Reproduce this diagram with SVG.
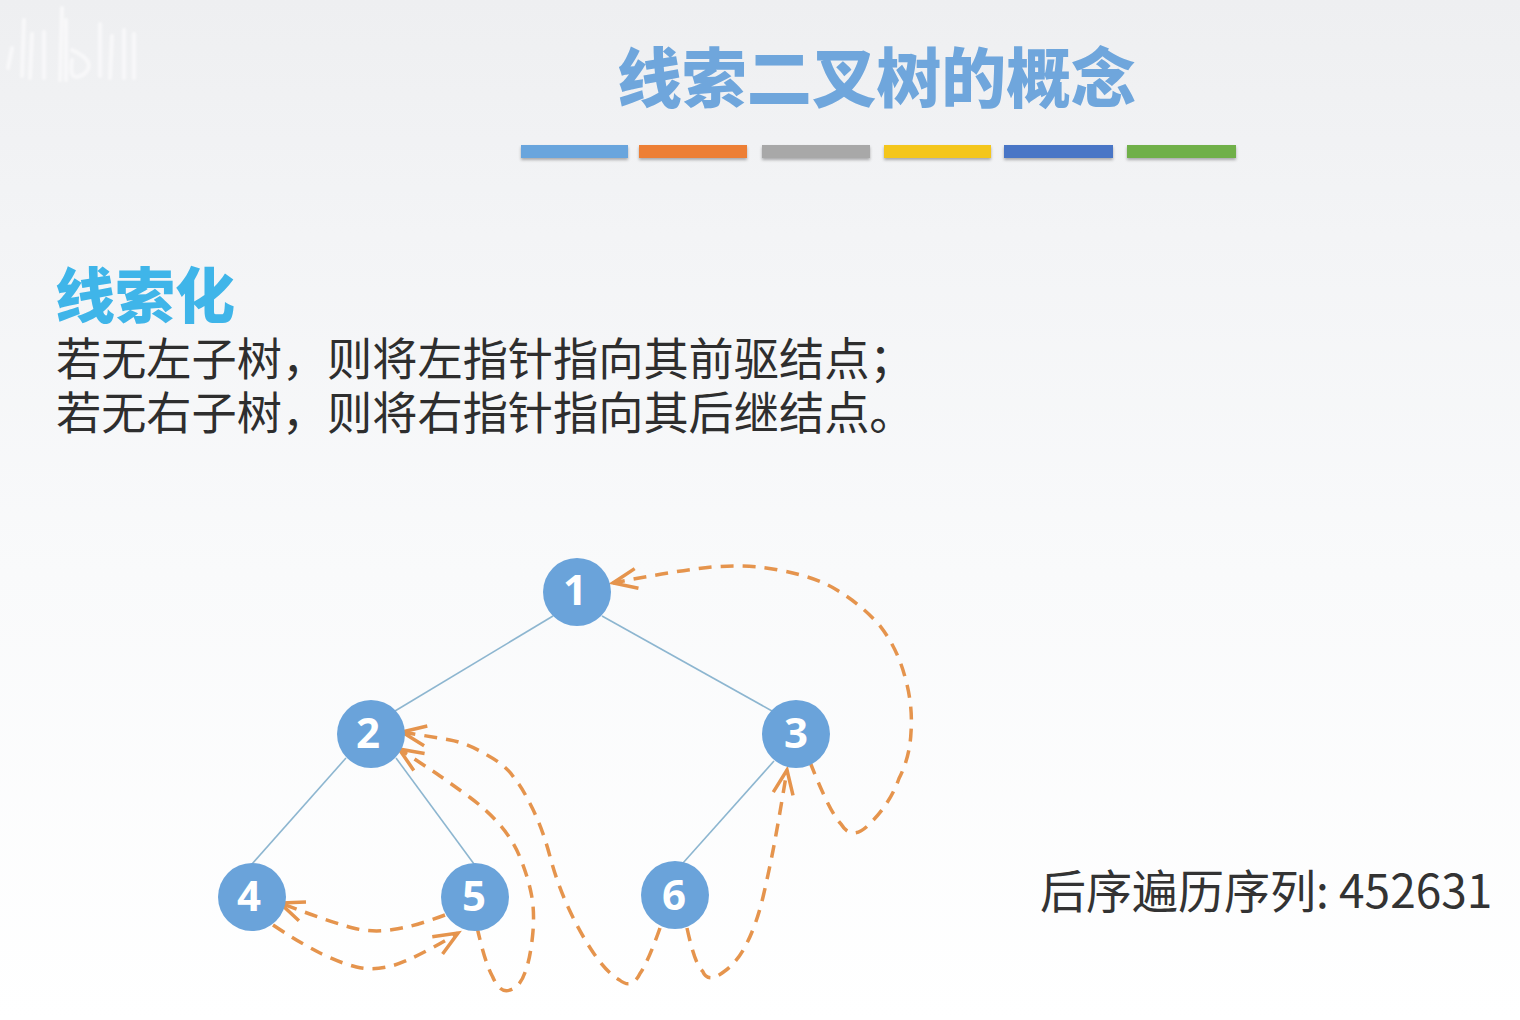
<svg xmlns="http://www.w3.org/2000/svg" width="1520" height="1020" viewBox="0 0 1520 1020">
<style>
.cjk{font-family:"Noto Sans CJK SC","Noto Sans",sans-serif}
.title{font-size:65px;font-weight:900;fill:#6fa6dc}
.head{font-size:60px;font-weight:900;fill:#3fb5e9}
.body{font-size:45.2px;font-weight:400;fill:#2e2e2e}
.seq{font-size:46px;font-weight:400;fill:#333}
.num{font-family:"Noto Sans","Open Sans",sans-serif;font-size:42px;font-weight:700;fill:#fff;text-anchor:middle}
.disc{fill:#6aa3da}
.edge{stroke:#8db6d0;stroke-width:1.6;fill:none}
.thread{stroke:#e5944d;stroke-width:3.5;fill:none;stroke-dasharray:13 9;marker-end:url(#open)}
.bar{filter:url(#sh)}
.wm{stroke:#f8f8f9;stroke-width:4;fill:none;stroke-linecap:round;filter:url(#soft)}
</style>
<defs>
<linearGradient id="bg" x1="0" y1="0" x2="0" y2="1">
<stop offset="0" stop-color="#eeeff1"/>
<stop offset="0.23" stop-color="#f3f4f6"/>
<stop offset="0.56" stop-color="#f9fafb"/>
<stop offset="1" stop-color="#ffffff"/>
</linearGradient>
<filter id="sh" x="-5%" y="-40%" width="110%" height="200%"><feDropShadow dx="0" dy="2" stdDeviation="1.5" flood-color="#000" flood-opacity="0.3"/></filter>
<filter id="soft" x="-10%" y="-10%" width="120%" height="120%"><feGaussianBlur stdDeviation="1.2"/></filter>
<marker id="open" markerUnits="userSpaceOnUse" markerWidth="30" markerHeight="24" refX="25" refY="11" orient="auto" overflow="visible">
<path d="M1 1 L25 11 L1 21" fill="none" stroke="#e5944d" stroke-width="3.5"/>
</marker>
</defs>
<rect width="1520" height="1020" fill="url(#bg)"/>
<g id="watermark" class="wm">
<path d="M12 48 L8 68 M24 20 L22 76 M32 34 L30 78 M44 32 L44 78 M62 8 L60 80 M66 20 L66 80 M72 50 Q98 62 84 74 Q68 84 72 60 M100 24 L100 76 M112 36 L110 78 M124 30 L124 78 M134 34 L134 78"/>
</g>
<text class="cjk title" x="617" y="102" textLength="519" lengthAdjust="spacingAndGlyphs">线索二叉树的概念</text>
<g id="title-bars">
<rect class="bar" x="521" y="145" width="107" height="13" fill="#69a5dd"/>
<rect class="bar" x="639" y="145" width="108" height="13" fill="#ed7f35"/>
<rect class="bar" x="762" y="145" width="108" height="13" fill="#a8a8a8"/>
<rect class="bar" x="884" y="145" width="107" height="13" fill="#f4c61f"/>
<rect class="bar" x="1004" y="145" width="109" height="13" fill="#4a76c6"/>
<rect class="bar" x="1127" y="145" width="109" height="13" fill="#70b04a"/>
</g>
<text class="cjk head" x="55" y="318">线索化</text>
<text class="cjk body" x="56" y="376">若无左子树，则将左指针指向其前驱结点；</text>
<text class="cjk body" x="56" y="430">若无右子树，则将右指针指向其后继结点。</text>
<text class="cjk seq" x="1040" y="908">后序遍历序列: 452631</text>
<g id="connectors">
<line class="edge" x1="553" y1="616" x2="395" y2="711"/>
<line class="edge" x1="602" y1="616" x2="772" y2="711"/>
<line class="edge" x1="346" y1="758" x2="252" y2="864"/>
<line class="edge" x1="396" y1="758" x2="474" y2="864"/>
<line class="edge" x1="774" y1="761" x2="683" y2="863"/>
<path class="thread" d="M810 762 Q830 813 841 824 Q852 842 869.500 824 Q890 804 899 778.500 Q910 757 911 732 Q913 705 905 677 Q897 647 878.500 624 Q860 604 838.500 591 Q817 577 778.500 570 Q750 564 712 567 Q680 570 613 583"/>
<path class="thread" d="M687 928 Q695 965 702.500 971 Q708 984 723.500 972 Q737 963 747 943 Q757 923 763.500 895 Q770 867 775 840 Q780 813 787 770"/>
<path class="thread" d="M660 928 Q648 962 640 973.500 Q632 990 619.500 980 Q607 973 593.500 953 Q580 933 568.500 908 Q557 883 550 856.500 Q543 830 532.500 808.500 Q522 787 514.500 778.500 Q507 766 487 755 Q467 743 450 740 Q433 737 402 732"/>
<path class="thread" d="M477 927 Q485 963 492.500 976.500 Q500 994 510 990 Q520 987 525 972.500 Q530 960 532.500 936.500 Q535 913 531.500 895 Q528 877 520.500 858.500 Q513 840 500 825 Q487 810 470 797.500 Q453 785 440 776 Q427 767 399 749"/>
<path class="thread" d="M445 915 Q413 927 393 929.500 Q373 933 353 928 Q333 923 280 903"/>
<path class="thread" d="M273 925 Q300 943 320 953 Q340 963 356.500 967 Q373 971 393 965.500 Q413 960 458 933"/>
</g>
<g id="node-1"><circle class="disc" cx="577" cy="592" r="34"/><text class="num" x="575" y="605">1</text></g>
<g id="node-2"><circle class="disc" cx="371" cy="734" r="34"/><text class="num" x="368" y="748">2</text></g>
<g id="node-3"><circle class="disc" cx="796" cy="734" r="34"/><text class="num" x="796" y="748">3</text></g>
<g id="node-4"><circle class="disc" cx="252" cy="897" r="34"/><text class="num" x="249" y="911">4</text></g>
<g id="node-5"><circle class="disc" cx="475" cy="897" r="34"/><text class="num" x="474" y="911">5</text></g>
<g id="node-6"><circle class="disc" cx="675" cy="895" r="34"/><text class="num" x="674" y="910">6</text></g>
</svg>
